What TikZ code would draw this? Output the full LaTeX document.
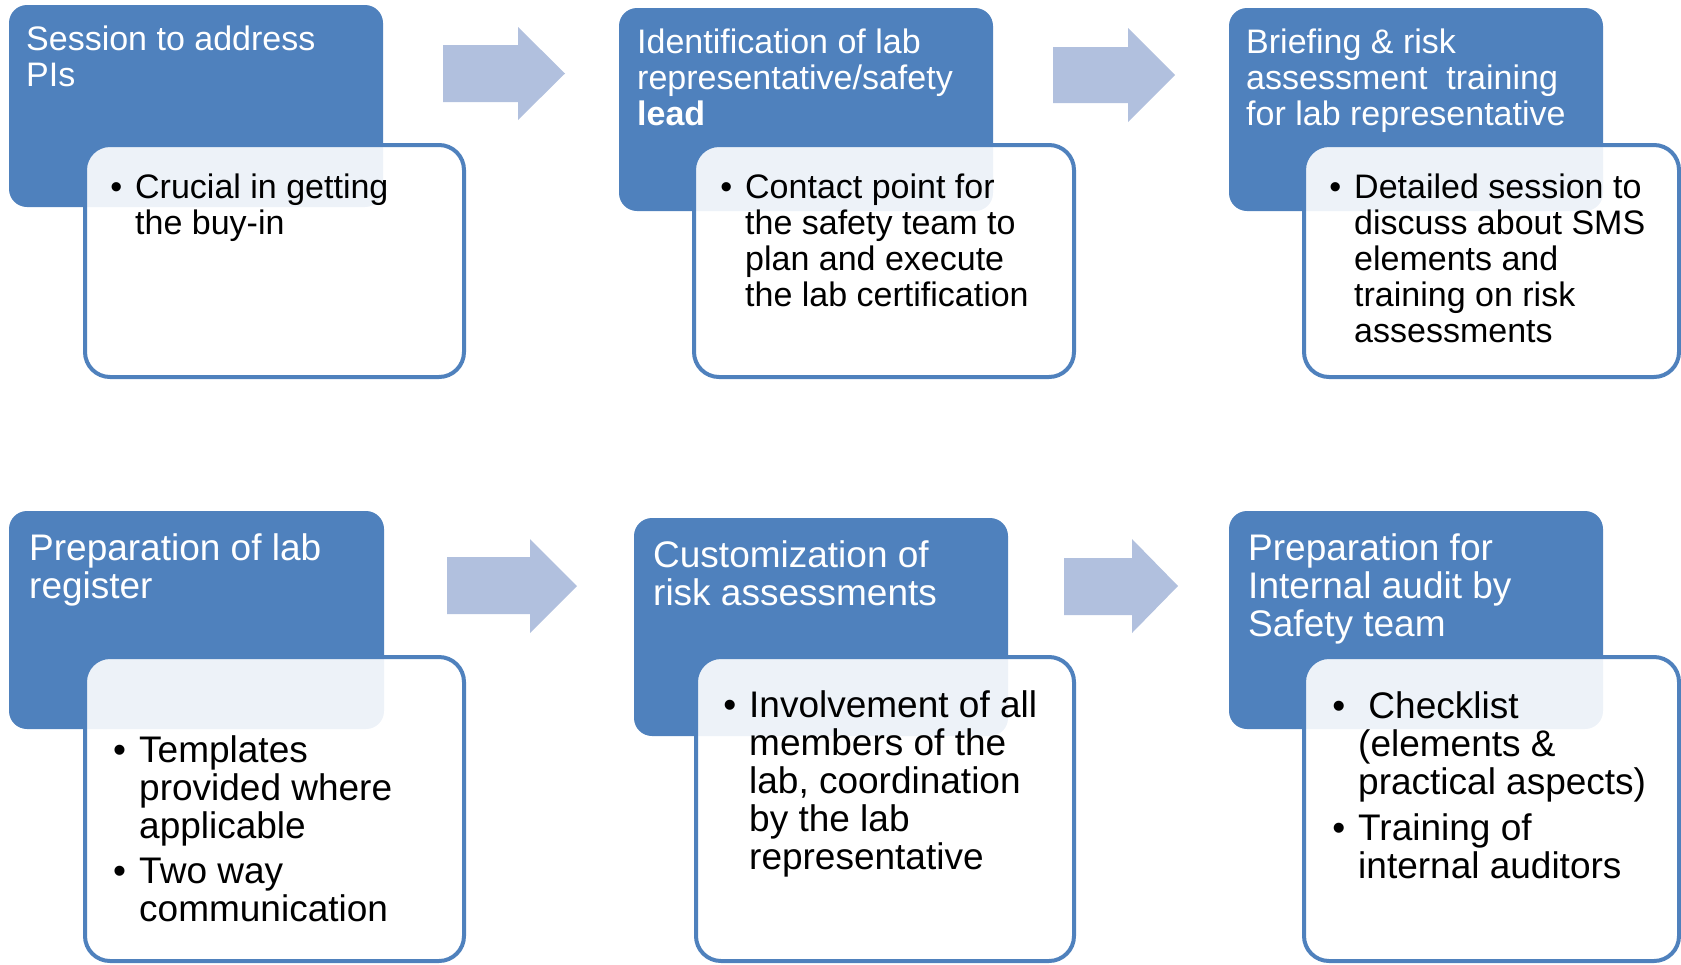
\documentclass[tikz,border=0pt]{standalone}
\usepackage{fontspec}
\setmainfont{Liberation Sans}
\definecolor{accentblue}{RGB}{79,129,189}
\definecolor{arrowblue}{RGB}{177,192,222}
% stacked lines whose reference point is the baseline of the first line
\newcommand\lns[1]{\vtop{\halign{##\hfil\cr#1\crcr}}}
\newcommand\bul{\llap{\textbullet\hspace{13pt}}}
\begin{document}
\begin{tikzpicture}[x=1pt,y=-1pt,
  phase/.style={fill=accentblue, draw=none, rounded corners=18pt,
    anchor=north west, inner sep=0pt, outer sep=0pt},
  card/.style={fill=white, fill opacity=0.9, draw=accentblue, line width=4pt,
    rounded corners=25pt, anchor=north west, inner sep=0pt, outer sep=0pt},
  steparrow/.style={fill=arrowblue, draw=none},
  headtop/.style={text=white, anchor=base west, inner sep=0pt,
    font=\fontsize{34}{36}\selectfont},
  headlow/.style={text=white, anchor=base west, inner sep=0pt,
    font=\fontsize{37}{38}\selectfont},
  bodytop/.style={text=black, anchor=base west, inner sep=0pt,
    font=\fontsize{34}{36}\selectfont},
  bodylow/.style={text=black, anchor=base west, inner sep=0pt,
    font=\fontsize{37}{38}\selectfont}]
\useasboundingbox (0,0) rectangle (1681,964);

% ---- title panels
\node[phase, minimum width=374pt, minimum height=202pt] (p1) at (9,5) {};
\node[phase, minimum width=374pt, minimum height=203pt] (p2) at (619,8) {};
\node[phase, minimum width=374pt, minimum height=203pt] (p3) at (1229,8) {};
\node[phase, minimum width=375pt, minimum height=218pt] (p4) at (9,511) {};
\node[phase, minimum width=374pt, minimum height=218pt] (p5) at (634,518) {};
\node[phase, minimum width=374pt, minimum height=218pt] (p6) at (1229,511) {};

% ---- detail cards
\node[card, minimum width=379pt, minimum height=232pt] (c1) at (85,145) {};
\node[card, minimum width=380pt, minimum height=232pt] (c2) at (694,145) {};
\node[card, minimum width=375pt, minimum height=232pt] (c3) at (1304,145) {};
\node[card, minimum width=379pt, minimum height=304pt] (c4) at (85,657) {};
\node[card, minimum width=378pt, minimum height=304pt] (c5) at (696,657) {};
\node[card, minimum width=375pt, minimum height=304pt] (c6) at (1304,657) {};

% ---- block arrows between the steps
\fill[steparrow] (443,45) -- (518,45) -- (518,27) -- (565,73.5) -- (518,120)
  -- (518,102) -- (443,102) -- cycle;
\fill[steparrow] (1053,47) -- (1128,47) -- (1128,28) -- (1175,75) -- (1128,122)
  -- (1128,103) -- (1053,103) -- cycle;
\fill[steparrow] (447,557) -- (530,557) -- (530,539) -- (577,586) -- (530,633)
  -- (530,614) -- (447,614) -- cycle;
\fill[steparrow] (1064,558) -- (1132,558) -- (1132,539) -- (1178,586) -- (1132,633)
  -- (1132,615) -- (1064,615) -- cycle;

% ---- panel titles
\node[headtop] (t1) at (26,50) {\lns{Session to address\cr PIs}};
\node[headtop] (t2) at (637,53) {\lns{Identification of lab\cr representative/safety\cr \textbf{lead}}};
\node[headtop] (t3) at (1246,53) {\lns{Briefing \& risk\cr assessment\ \ training\cr for lab representative}};
\node[headlow] (t4) at (29,560) {\lns{Preparation of lab\cr register}};
\node[headlow] (t5) at (653,567) {\lns{Customization of\cr risk assessments}};
\node[headlow] (t6) at (1248,560) {\lns{Preparation for\cr Internal audit by\cr Safety team}};

% ---- card texts
\node[bodytop] (b1) at (135,198) {\lns{\bul Crucial in getting\cr the buy-in}};
\node[bodytop] (b2) at (745,198) {\lns{\bul Contact point for\cr the safety team to\cr plan and execute\cr the lab certification}};
\node[bodytop] (b3) at (1354,198) {\lns{\bul Detailed session to\cr discuss about SMS\cr elements and\cr training on risk\cr assessments}};
\node[bodylow] (b4) at (139,762) {\lns{\bul Templates\cr provided where\cr applicable\cr
  \noalign{\vskip7pt}\bul Two way\cr communication}};
\node[bodylow] (b5) at (749,717) {\lns{\bul Involvement of all\cr members of the\cr lab, coordination\cr by the lab\cr representative}};
\node[bodylow] (b6) at (1358,718) {\lns{\bul\ Checklist\cr (elements \&\cr practical aspects)\cr
  \noalign{\vskip8pt}\bul Training of\cr internal auditors}};
\end{tikzpicture}
\end{document}
